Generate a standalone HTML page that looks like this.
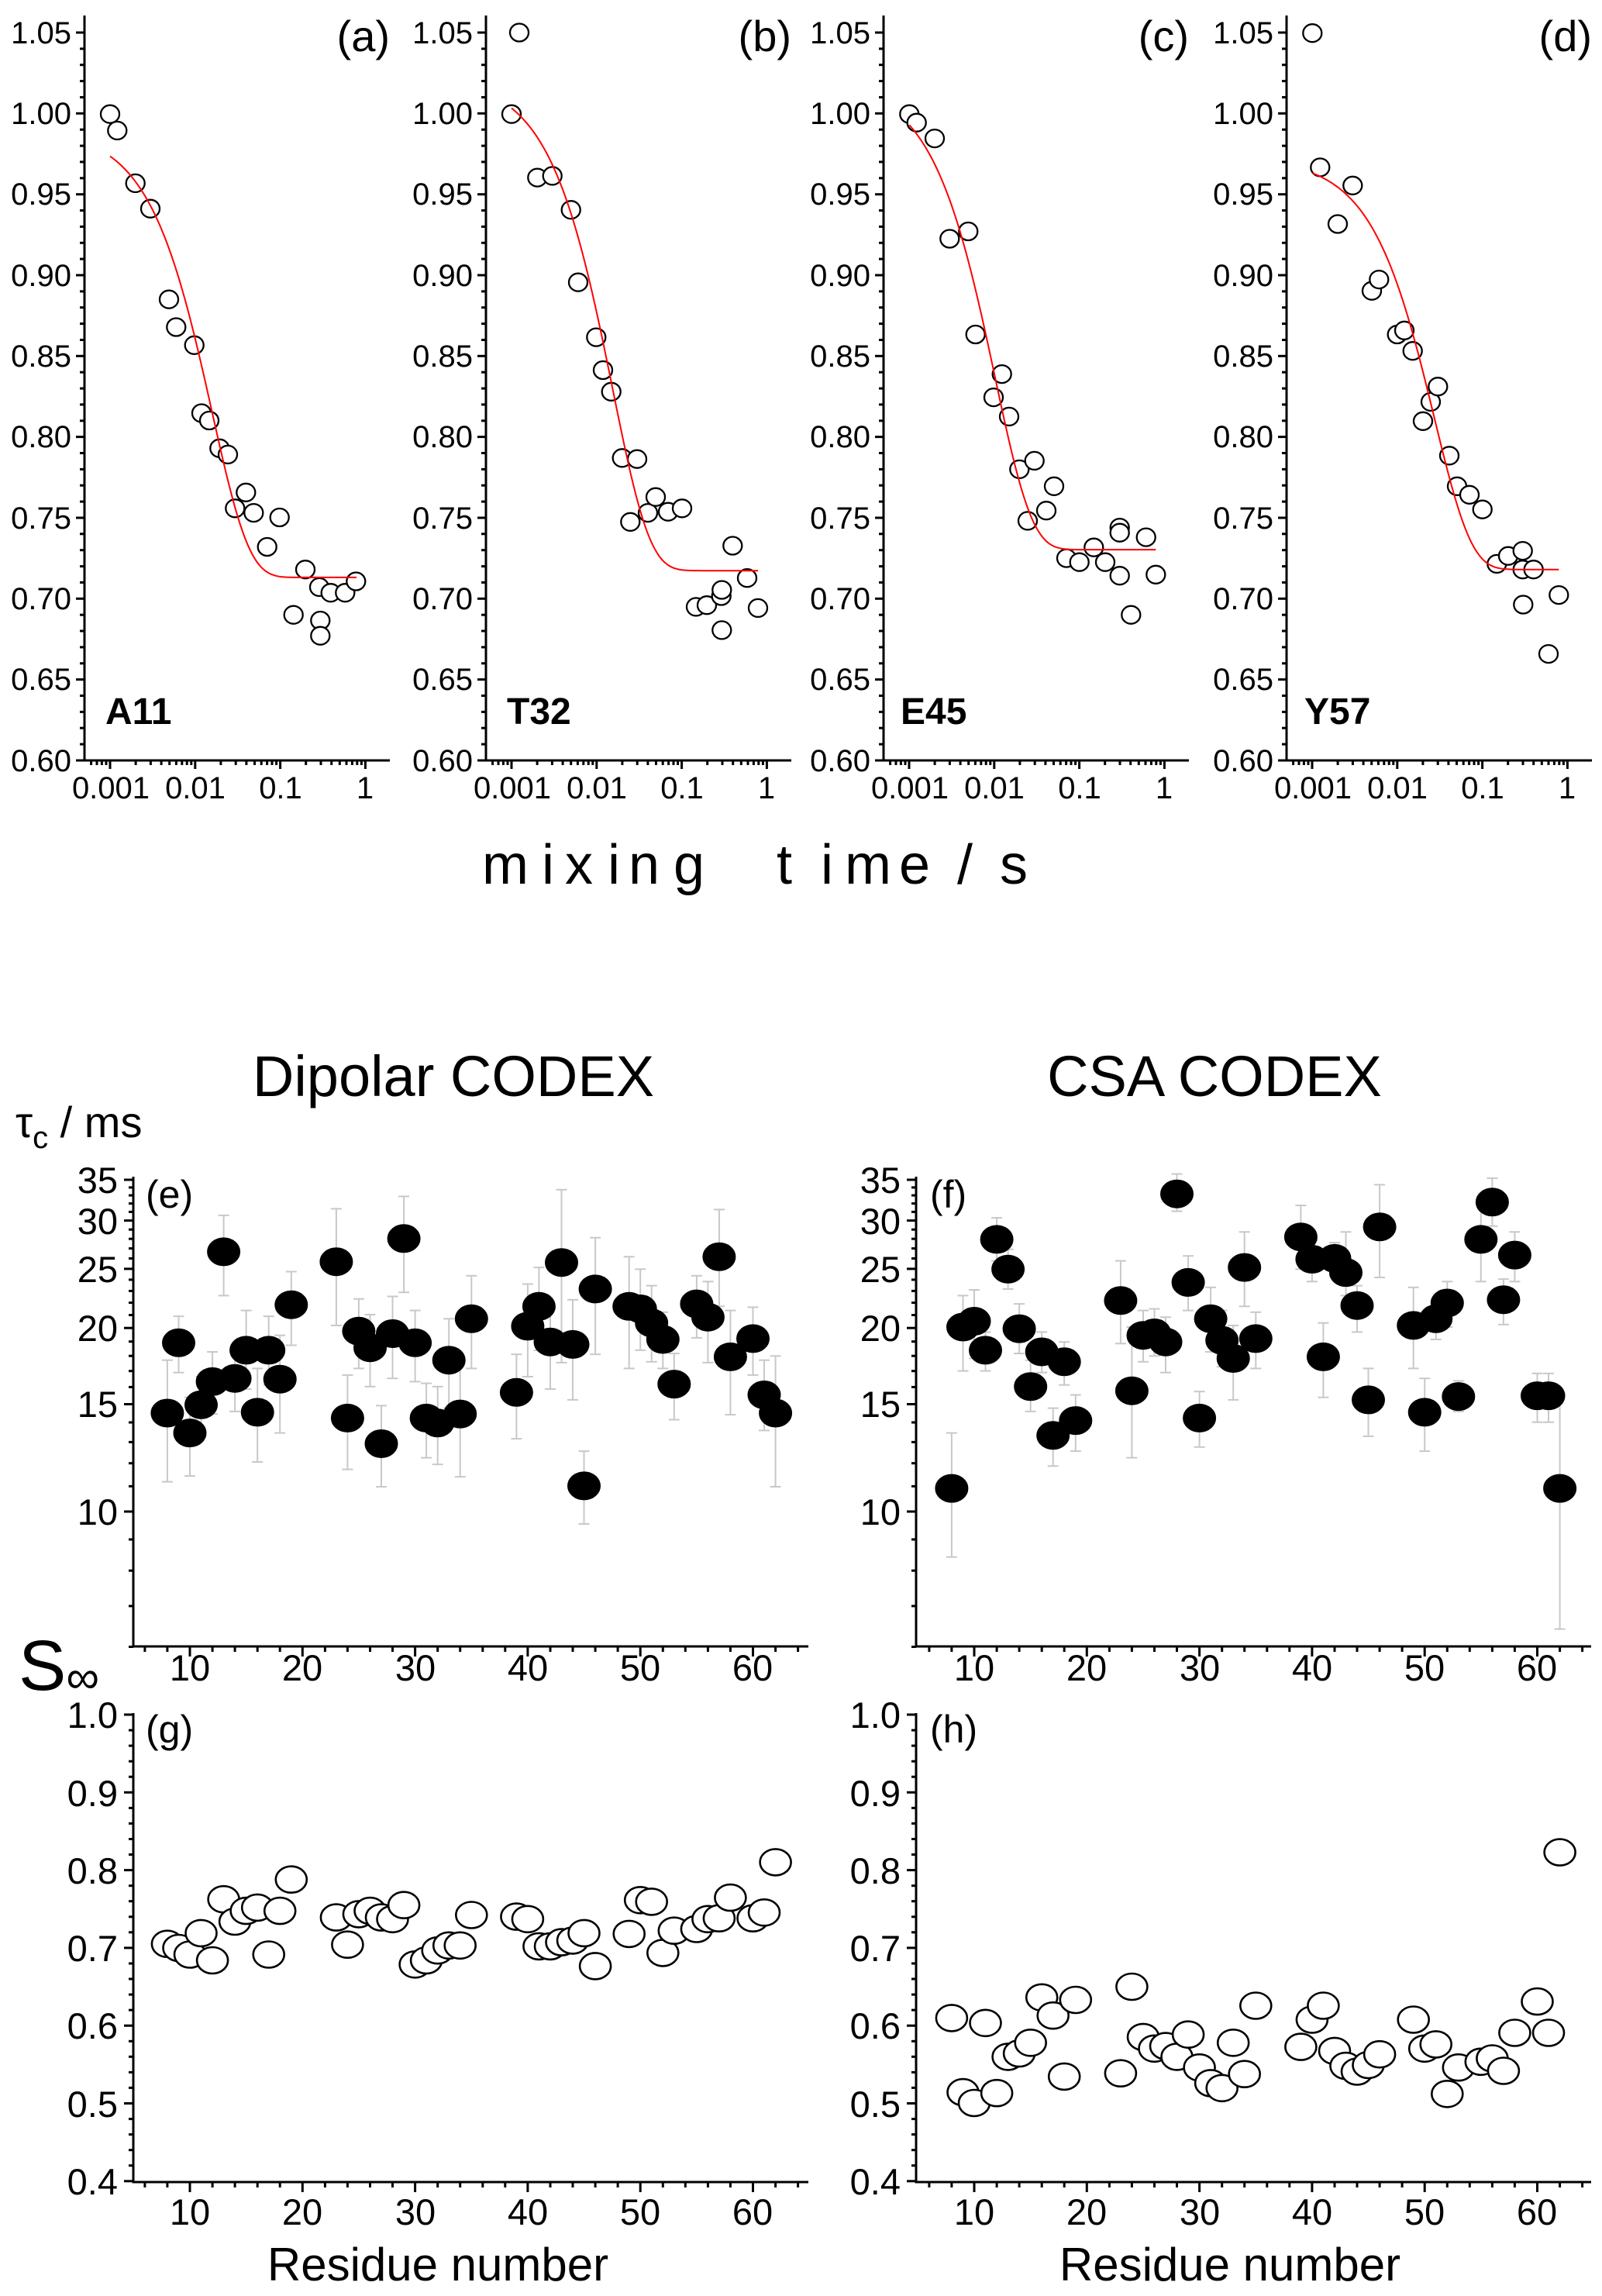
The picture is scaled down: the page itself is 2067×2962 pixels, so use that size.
<!DOCTYPE html>
<html><head><meta charset="utf-8"><style>
html,body{margin:0;padding:0;background:#fff;}
svg{display:block;font-family:"Liberation Sans",Arial,sans-serif;}
</style></head><body>
<svg id="s" width="2067" height="2962" viewBox="0 0 2067 2962" xmlns="http://www.w3.org/2000/svg">
<g id="g"></g>
<g font-size="40" text-anchor="end">
<text x="92" y="56">1.05</text><text x="92" y="160">1.00</text><text x="92" y="264">0.95</text><text x="92" y="369">0.90</text><text x="92" y="473">0.85</text><text x="92" y="577">0.80</text><text x="92" y="682">0.75</text><text x="92" y="786">0.70</text><text x="92" y="890">0.65</text><text x="92" y="995">0.60</text>
<text x="610" y="56">1.05</text><text x="610" y="160">1.00</text><text x="610" y="264">0.95</text><text x="610" y="369">0.90</text><text x="610" y="473">0.85</text><text x="610" y="577">0.80</text><text x="610" y="682">0.75</text><text x="610" y="786">0.70</text><text x="610" y="890">0.65</text><text x="610" y="995">0.60</text>
<text x="1123" y="56">1.05</text><text x="1123" y="160">1.00</text><text x="1123" y="264">0.95</text><text x="1123" y="369">0.90</text><text x="1123" y="473">0.85</text><text x="1123" y="577">0.80</text><text x="1123" y="682">0.75</text><text x="1123" y="786">0.70</text><text x="1123" y="890">0.65</text><text x="1123" y="995">0.60</text>
<text x="1643" y="56">1.05</text><text x="1643" y="160">1.00</text><text x="1643" y="264">0.95</text><text x="1643" y="369">0.90</text><text x="1643" y="473">0.85</text><text x="1643" y="577">0.80</text><text x="1643" y="682">0.75</text><text x="1643" y="786">0.70</text><text x="1643" y="890">0.65</text><text x="1643" y="995">0.60</text>
</g>
<g font-size="40" text-anchor="middle">
<text x="143" y="1030">0.001</text><text x="252" y="1030">0.01</text><text x="362" y="1030">0.1</text><text x="471" y="1030">1</text>
<text x="661" y="1030">0.001</text><text x="770" y="1030">0.01</text><text x="880" y="1030">0.1</text><text x="989" y="1030">1</text>
<text x="1174" y="1030">0.001</text><text x="1283" y="1030">0.01</text><text x="1393" y="1030">0.1</text><text x="1502" y="1030">1</text>
<text x="1694" y="1030">0.001</text><text x="1803" y="1030">0.01</text><text x="1913" y="1030">0.1</text><text x="2022" y="1030">1</text>
</g>
<g font-size="56" text-anchor="end">
<text x="503" y="66">(a)</text><text x="1021" y="66">(b)</text><text x="1534" y="66">(c)</text><text x="2054" y="66">(d)</text>
</g>
<g font-size="48" font-weight="bold">
<text x="136" y="934">A11</text><text x="654" y="934">T32</text><text x="1162" y="934">E45</text><text x="1683" y="934">Y57</text>
</g>
<text font-size="72" y="1140" x="622 699 729 784 811 869 1002 1059 1090 1160 1235 1290">mixingtime/s</text>

<text font-size="74" x="585" y="1414" text-anchor="middle">Dipolar CODEX</text>
<text font-size="74" x="1567" y="1414" text-anchor="middle">CSA CODEX</text>
<text font-size="56" x="20" y="1467">τ<tspan font-size="40" dy="14">c</tspan><tspan dy="-14"> / ms</tspan></text>
<text font-size="92" x="24" y="2180">S<tspan font-size="60" dy="4">∞</tspan></text>

<g font-size="47" text-anchor="end">
<text x="152" y="1539">35</text><text x="152" y="1592">30</text><text x="152" y="1654">25</text><text x="152" y="1730">20</text><text x="152" y="1828">15</text><text x="152" y="1967">10</text>
<text x="1162" y="1539">35</text><text x="1162" y="1592">30</text><text x="1162" y="1654">25</text><text x="1162" y="1730">20</text><text x="1162" y="1828">15</text><text x="1162" y="1967">10</text>
<text x="152" y="2229">1.0</text><text x="152" y="2330">0.9</text><text x="152" y="2430">0.8</text><text x="152" y="2530">0.7</text><text x="152" y="2630">0.6</text><text x="152" y="2731">0.5</text><text x="152" y="2831">0.4</text>
<text x="1162" y="2229">1.0</text><text x="1162" y="2330">0.9</text><text x="1162" y="2430">0.8</text><text x="1162" y="2530">0.7</text><text x="1162" y="2630">0.6</text><text x="1162" y="2731">0.5</text><text x="1162" y="2831">0.4</text>
</g>
<g font-size="47" text-anchor="middle">
<text x="245" y="2168">10</text><text x="390" y="2168">20</text><text x="536" y="2168">30</text><text x="681" y="2168">40</text><text x="826" y="2168">50</text><text x="971" y="2168">60</text>
<text x="1257" y="2168">10</text><text x="1402" y="2168">20</text><text x="1548" y="2168">30</text><text x="1693" y="2168">40</text><text x="1838" y="2168">50</text><text x="1983" y="2168">60</text>
<text x="245" y="2870">10</text><text x="390" y="2870">20</text><text x="536" y="2870">30</text><text x="681" y="2870">40</text><text x="826" y="2870">50</text><text x="971" y="2870">60</text>
<text x="1257" y="2870">10</text><text x="1402" y="2870">20</text><text x="1548" y="2870">30</text><text x="1693" y="2870">40</text><text x="1838" y="2870">50</text><text x="1983" y="2870">60</text>
</g>
<g font-size="50">
<text x="188" y="1558">(e)</text><text x="1200" y="1558">(f)</text>
<text x="188" y="2248">(g)</text><text x="1200" y="2248">(h)</text>
</g>
<g font-size="60" text-anchor="middle">
<text x="565" y="2942">Residue number</text><text x="1587" y="2942">Residue number</text>
</g>
</svg>
<script>
(function(){
var G=document.getElementById("g"),out=[];
function L(x1,y1,x2,y2,c,w){out.push('<line x1="'+x1.toFixed(1)+'" y1="'+y1.toFixed(1)+'" x2="'+x2.toFixed(1)+'" y2="'+y2.toFixed(1)+'" stroke="'+(c||"#000")+'" stroke-width="'+(w||3)+'"/>');}
function E(x,y,rx,ry,fill,sw){out.push('<ellipse cx="'+x.toFixed(1)+'" cy="'+y.toFixed(1)+'" rx="'+rx+'" ry="'+ry+'" fill="'+fill+'" stroke="#000" stroke-width="'+sw+'"/>');}
var axX=[109,627,1140,1660];
function ty(v){return 42+(1.05-v)/0.05*104.33;}
axX.forEach(function(ax){
  var x0=ax+33,dec=109.8;
  L(ax,20,ax,981); L(ax-1.5,981,ax+394,981);
  for(var i=0;i<=45;i++){var v=0.60+i*0.01,y=ty(v),maj=(i%5==0);L(ax-(maj?11:6),y,ax,y);}
  for(var d=-4;d<=0;d++)for(var k=1;k<=9;k++){var x=x0+(d+3+Math.log10(k))*dec;if(x<ax+2||x>ax+394)continue;L(x,981,x,981+(k==1?11:6));}
});
var tops=[
 {xo:0,pts:[[213,196],[227,225],[262,318],[291,363],[327,523],[341,572],[376,604],[390,724],[405,737],[425,786],[441,797],[455,892],[476,864],[491,900],[517,960],[541,908],[568,1080],[591,1000],[618,1031],[620,1090],[620,1117],[640,1041],[668,1041],[689,1021]],c:[213,1014,792,0.0159,690]},
 {xo:0,pts:[[990,196],[1005,52],[1040,308],[1069,305],[1105,365],[1119,493],[1154,590],[1167,648],[1183,686],[1204,803],[1233,805],[1220,916],[1254,900],[1269,872],[1293,898],[1320,892],[1347,1066],[1368,1063],[1396,1047],[1397,1036],[1397,1107],[1418,958],[1446,1015],[1467,1068]],c:[990,1002,871,0.0155,1467]},
 {xo:1030,pts:[[215,196],[229,211],[264,239],[293,416],[329,403],[343,585],[378,696],[394,655],[408,730],[428,823],[444,914],[457,808],[480,896],[495,853],[519,980],[544,987],[572,961],[594,987],[622,926],[622,935],[622,1011],[644,1080],[673,943],[692,1009]],c:[215,965,827,0.0102,693]},
 {xo:1030,pts:[[995,53],[1010,290],[1044,390],[1073,322],[1110,508],[1124,488],[1159,585],[1173,578],[1189,614],[1209,738],[1224,704],[1238,677],[1260,799],[1275,853],[1299,868],[1324,894],[1352,990],[1374,976],[1402,967],[1402,1000],[1403,1062],[1423,1000],[1452,1149],[1472,1045]],c:[995,1000,726,0.0273,1472]}
];
function pyTop(py){return 42+(py-52)*0.7307;}
tops.forEach(function(p){
  var c=p.c,d="";
  for(var px=c[0];px<=c[4];px+=3){var t=Math.pow(10,(px-c[0])/164.5-3);var y=c[1]-c[2]*Math.exp(-t/c[3]);d+=(d?"L":"M")+(p.xo+px/1.5).toFixed(1)+","+pyTop(y).toFixed(1);}
  p.pts.forEach(function(q){E(p.xo+q[0]/1.5,pyTop(q[1]),12,11.5,"#fff",2.3);});
  out.push('<path d="'+d+'" fill="none" stroke="#f00" stroke-width="2"/>');
});
var bx=[172,1182],b10=[245,1257],pr=14.53;
function ly(v){return 1950-(Math.log10(v)-1)*786.7;}
function sy(v){return 2212+(1.0-v)*1003;}
bx.forEach(function(ax,j){
  var xr=ax+871;
  L(ax,1518,ax,2124); L(ax-1.5,2124,xr,2124);
  for(var v=6;v<=35;v++){var y=ly(v),maj=(v%5==0);L(ax-(maj?12:6),y,ax,y);}
  L(ax,2210,ax,2815); L(ax-1.5,2815,xr,2815);
  for(var i=0;i<=30;i++){var y=sy(0.4+i*0.02),maj=(i%5==0);L(ax-(maj?12:6),y,ax,y);}
  for(var r=6;r<=64;r+=2){var x=b10[j]+(r-10)*pr,maj=(r%10==0);L(x,2124,x,2124+(maj?13:7));L(x,2815,x,2815+(maj?13:7));}
});
function eY(py){return 1950+(py-613)*1.0673;}
function gY(py){return 2212+(py-862)*1.0636;}
var E_=[[8,494,430,577],[9,409,377,445],[10,518,475,570],[11,484,450,520],[12,456,420,495],[13,299,255,352],[14,452,420,492],[15,418,370,465],[16,493,440,553],[17,418,377,460],[18,453,400,518],[19,363,323,412],[23,311,247,388],[24,500,448,562],[25,395,356,440],[26,415,375,462],[27,531,485,583],[28,398,353,452],[29,283,232,348],[30,409,370,456],[31,500,458,548],[32,506,462,556],[33,430,380,488],[34,495,430,571],[35,380,328,440],[39,469,423,525],[40,389,338,450],[41,365,318,418],[42,408,368,465],[43,312,224,433],[44,411,357,478],[45,582,540,628],[46,344,282,423],[49,365,305,440],[50,368,320,418],[51,385,340,432],[52,405,372,440],[53,459,422,502],[55,362,328,403],[56,378,335,433],[57,305,248,365],[58,426,370,496],[60,404,366,448],[61,472,430,515],[62,494,425,583]];
var F_=[[8,585,518,668],[9,390,352,443],[10,383,345,428],[11,418,396,443],[12,284,258,310],[13,320,296,344],[14,392,362,422],[15,462,430,492],[16,420,396,445],[17,521,488,558],[18,432,408,460],[19,503,472,540],[23,358,310,410],[24,467,390,548],[25,400,370,432],[26,397,368,425],[27,408,378,445],[28,229,205,250],[29,336,304,370],[30,500,468,535],[31,380,342,420],[32,406,370,438],[33,428,388,478],[34,318,275,365],[35,404,372,440],[39,281,243,320],[40,308,285,335],[41,426,385,475],[42,307,288,328],[43,324,275,352],[44,364,340,396],[45,478,440,522],[46,269,218,330],[49,388,342,440],[50,493,452,540],[51,380,358,405],[52,361,335,390],[53,474,455,492],[55,284,240,335],[56,239,210,268],[57,357,332,387],[58,303,275,335],[60,473,446,505],[61,473,446,505],[62,585,470,755]];
var G_={8:1140,9:1145,10:1153,11:1127,12:1160,13:1086,14:1113,15:1100,16:1096,17:1153,18:1100,19:1062,23:1108,24:1141,25:1104,26:1100,27:1108,28:1110,29:1093,30:1165,31:1160,32:1148,33:1142,34:1142,35:1105,39:1107,40:1110,41:1143,42:1143,43:1138,44:1136,45:1127,46:1167,49:1128,50:1087,51:1089,52:1151,53:1124,55:1122,56:1110,57:1109,58:1084,60:1109,61:1102,62:1041};
var H_={8:1230,9:1320,10:1333,11:1236,12:1321,13:1277,14:1273,15:1260,16:1205,17:1227,18:1301,19:1208,23:1297,24:1192,25:1253,26:1267,27:1264,28:1277,29:1250,30:1290,31:1309,32:1315,33:1260,34:1298,35:1215,39:1265,40:1232,41:1215,42:1270,43:1288,44:1295,45:1287,46:1274,49:1232,50:1267,51:1262,52:1322,53:1290,55:1283,56:1279,57:1294,58:1248,60:1210,61:1248,62:1029};
[[E_,0],[F_,1]].forEach(function(s){var j=s[1];
  s[0].forEach(function(q){var x=b10[j]+(q[0]-10)*pr;var a=eY(q[2]),b=eY(q[3]);L(x,a,x,b,"#c8c8c8",2);L(x-7,a,x+7,a,"#c8c8c8",2);L(x-7,b,x+7,b,"#c8c8c8",2);});
  s[0].forEach(function(q){var x=b10[j]+(q[0]-10)*pr;E(x,eY(q[1]),21,18,"#000",1);});
});
[[G_,0],[H_,1]].forEach(function(s){var j=s[1];
  Object.keys(s[0]).forEach(function(r){var x=b10[j]+(r-10)*pr;E(x,gY(s[0][r]),20,17,"#fff",2.6);});
});
G.innerHTML=out.join("");
})();
</script>
</body></html>
